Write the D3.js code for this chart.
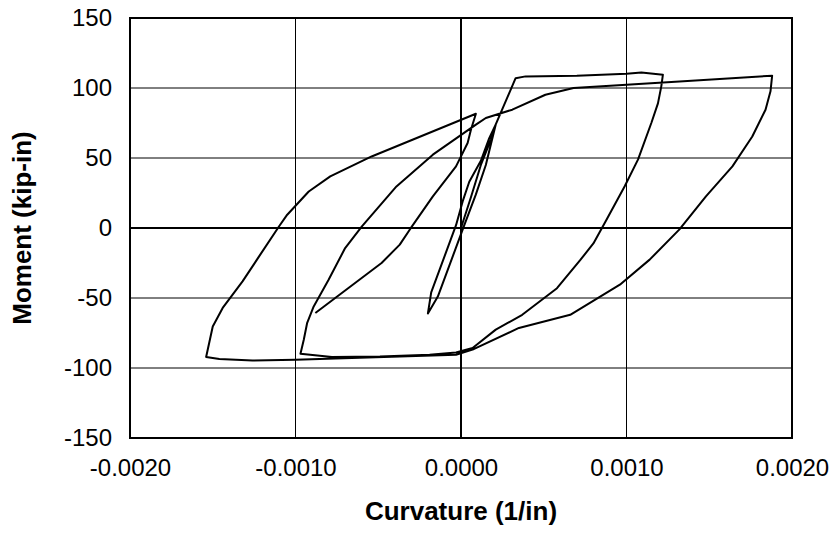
<!DOCTYPE html>
<html>
<head>
<meta charset="utf-8">
<script src="https://cdn.jsdelivr.net/npm/d3@7"></script>
<style>
  body { margin: 0; background: #fff; }
  text { font-family: "Liberation Sans", Arial, sans-serif; fill: #000; }
</style>
</head>
<body>
<div id="chart"></div>
<script>
// tick values
var xTicks = [-0.002, -0.001, 0, 0.001, 0.002];
var yTicks = [-150, -100, -50, 0, 50, 100, 150];

// moment-curvature path (in test order)
var curvature = [
  0, 0.00006, 0.00012, 0.00018, 0.00021, 0.00015, 0.00009, 0.00002, -0.00014, -0.00020,
  -0.00018, -0.00003, 0.00001, 0.00005, 0.00012, 0.00017, 0.00021,
  0.00033, 0.00039, 0.00070, 0.00100, 0.00109, 0.00122, 0.00121, 0.00119, 0.00115,
  0.00107, 0.00099, 0.00088, 0.00080, 0.00072, 0.00058, 0.00037, 0.00021, 0.00007,
  -0.00003, -0.00019, -0.00049, -0.00078, -0.00097,
  -0.00095, -0.00093, -0.00089, -0.00080, -0.00070, -0.00060, -0.00039, -0.00017,
  0.00009, 0.00015, 0.00031, 0.00051, 0.00068, 0.00100, 0.00132, 0.00188,
  0.00187, 0.00184, 0.00176, 0.00164, 0.00148, 0.00132, 0.00114, 0.00096, 0.00066,
  0.00035, 0.00007, -0.00003, -0.00066, -0.00100, -0.00126, -0.00146, -0.00154,
  -0.00150, -0.00144, -0.00132, -0.00122, -0.00110, -0.00105, -0.00092, -0.00079,
  -0.00054, 0.00009,
  0.00006, 0.00004, -0.00003, -0.00017, -0.00031, -0.00037, -0.00048, -0.00072, -0.00088
];
var moment = [
  0, 22, 45, 63, 74, 45, 24, 2, -49, -61,
  -46, 2, 19, 33, 48, 64, 74,
  107, 108.3, 108.8, 110.2, 111, 109.5, 101, 89, 75,
  49, 30, 6, -11, -23, -43, -62, -72.6, -85.7,
  -88.9, -90.5, -91.7, -92.1, -89.8,
  -79.8, -68, -56, -37, -14.3, 1, 29.7, 52.4,
  73.8, 78.6, 84.5, 95.2, 100, 102.4, 104.7, 108.8,
  97.6, 84.5, 65.4, 44, 22.6, -1, -22.6, -40.5, -62,
  -71.4, -86.9, -90.5, -92.9, -94.1, -94.6, -93.6, -92.1,
  -70.3, -57.1, -38.1, -20.3, 1.1, 9.5, 26.1, 36.9,
  51.1, 81.6,
  70.2, 60.7, 44, 22.6, -1.2, -11.9, -25, -46.4, -60.7
];

var W = 835, H = 541;
var margin = {top: 18, right: 43, bottom: 103, left: 130},
    width = W - margin.left - margin.right,
    height = H - margin.top - margin.bottom;

var svg = d3.select("#chart").append("svg")
    .attr("width", W)
    .attr("height", H);

var g = svg.append("g")
    .attr("transform", "translate(" + margin.left + "," + margin.top + ")");

var x = d3.scaleLinear().domain([-0.002, 0.002]).range([0, width]);
var y = d3.scaleLinear().domain([-150, 150]).range([height, 0]);

// plain hyphen for negatives, like the original
var fmtX = function(d) { return d3.format(".4f")(d).replace("\u2212", "-"); };
var fmtY = function(d) { return String(d); };

// grid lines
g.selectAll(".vgrid").data(xTicks).enter().append("line")
    .attr("x1", function(d) { return x(d); })
    .attr("x2", function(d) { return x(d); })
    .attr("y1", 0).attr("y2", height)
    .attr("stroke", "#000")
    .attr("stroke-width", function(d) { return d === 0 ? 2 : 1; });

g.selectAll(".hgrid").data(yTicks).enter().append("line")
    .attr("y1", function(d) { return y(d); })
    .attr("y2", function(d) { return y(d); })
    .attr("x1", 0).attr("x2", width)
    .attr("stroke", "#000")
    .attr("stroke-width", function(d) { return d === 0 ? 2 : 1; });

// axes (labels only, no tick marks)
var xAxis = d3.axisBottom(x).tickValues(xTicks).tickSize(0).tickPadding(21).tickFormat(fmtX);
var yAxis = d3.axisLeft(y).tickValues(yTicks).tickSize(0).tickPadding(18).tickFormat(fmtY);

g.append("g")
    .attr("transform", "translate(0," + height + ")")
    .call(xAxis)
    .call(function(s) { s.select(".domain").remove(); })
    .selectAll("text").style("font-size", "24px");

g.append("g")
    .call(yAxis)
    .call(function(s) { s.select(".domain").remove(); })
    .selectAll("text").style("font-size", "24px");

// plot border
g.append("rect")
    .attr("width", width).attr("height", height)
    .attr("fill", "none")
    .attr("stroke", "#000")
    .attr("stroke-width", 2);

// the curve
var pts = curvature.map(function(c, i) { return [c, moment[i]]; });
var line = d3.line()
    .x(function(d) { return x(d[0]); })
    .y(function(d) { return y(d[1]); });

g.append("path")
    .datum(pts)
    .attr("d", line)
    .attr("fill", "none")
    .attr("stroke", "#000")
    .attr("stroke-width", 2)
    .attr("stroke-linejoin", "round");

// axis titles
svg.append("text")
    .attr("x", margin.left + width / 2)
    .attr("y", 520)
    .attr("text-anchor", "middle")
    .style("font-size", "26px")
    .style("font-weight", "bold")
    .text("Curvature (1/in)");

svg.append("text")
    .attr("transform", "translate(31," + (margin.top + height / 2) + ") rotate(-90)")
    .attr("text-anchor", "middle")
    .style("font-size", "26px")
    .style("font-weight", "bold")
    .text("Moment (kip-in)");
</script>
</body>
</html>
